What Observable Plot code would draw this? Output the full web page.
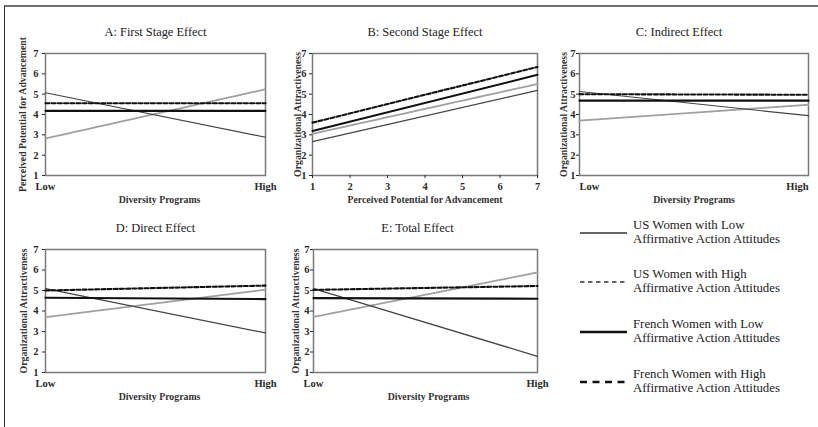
<!DOCTYPE html>
<html>
<head>
<meta charset="utf-8">
<script src="https://cdn.jsdelivr.net/npm/d3@7"></script>
<script src="https://cdn.jsdelivr.net/npm/@observablehq/plot@0.6"></script>
<style>
  html, body { margin: 0; padding: 0; background: #fff; }
  #root { position: relative; width: 818px; height: 427px; overflow: hidden; background: #fff;
          font-family: "Liberation Serif", "Times New Roman", serif; color: #222; }
  #border { position: absolute; left: 4px; top: 5px; right: 0; bottom: 0;
            border-top: 2px solid #707070; border-left: 1.5px solid #333; pointer-events: none; }
  .panel { position: absolute; }
  #legend { position: absolute; left: 578px; top: 0; width: 240px; height: 427px; }
  .entry { position: absolute; left: 0; width: 240px; height: 30px; }
  .entry svg { position: absolute; left: 2px; }
  .entry .txt { position: absolute; left: 55px; top: 0; font-size: 12.8px; line-height: 14.5px; white-space: nowrap; color: #222; }
</style>
</head>
<body>
<div id="root">
  <div id="border"></div>
  <div id="legend"></div>
</div>
<script>
// ---------- data ----------
const seriesNames = [
  "US Women with Low Affirmative Action Attitudes",
  "US Women with High Affirmative Action Attitudes",
  "French Women with Low Affirmative Action Attitudes",
  "French Women with High Affirmative Action Attitudes"
];
const legendLine1 = ["US Women with Low", "US Women with High", "French Women with Low", "French Women with High"];
const legendLine2 = ["Affirmative Action Attitudes", "Affirmative Action Attitudes", "Affirmative Action Attitudes", "Affirmative Action Attitudes"];

const xLevels = ["Low", "High"];
const potentialEnds = [1, 7];
const potentialTicks = [1, 2, 3, 4, 5, 6, 7];
const yTicks = [1, 2, 3, 4, 5, 6, 7];

const titles = ["A: First Stage Effect", "B: Second Stage Effect", "C: Indirect Effect", "D: Direct Effect", "E: Total Effect"];
const xLabels = ["Diversity Programs", "Perceived Potential for Advancement", "Diversity Programs", "Diversity Programs", "Diversity Programs"];
const yLabels = ["Perceived Potential for Advancement", "Organizational Attractiveness", "Organizational Attractiveness", "Organizational Attractiveness", "Organizational Attractiveness"];

// values per series (US Low, US High, French Low, French High), [at low end, at high end]
const firstStage  = [[5.07, 2.88], [2.82, 5.24], [4.18, 4.18], [4.55, 4.55]];
const secondStage = [[2.67, 5.19], [3.05, 5.50], [3.19, 5.95], [3.60, 6.34]];
const indirect    = [[5.13, 3.94], [3.70, 4.48], [4.68, 4.68], [5.00, 4.97]];
const direct      = [[5.09, 2.93], [3.70, 5.04], [4.65, 4.58], [5.00, 5.24]];
const total       = [[5.09, 1.79], [3.71, 5.88], [4.63, 4.60], [5.03, 5.22]];

// ---------- styles ----------
const serif = '"Liberation Serif", "Times New Roman", serif';
const lineStyles = [
  {stroke: "#444", strokeWidth: 1.2},
  {stroke: "#a0a0a0", strokeWidth: 1.8, strokeDasharray: "1.4,1"},
  {stroke: "#111", strokeWidth: 2.1},
  {stroke: "#111", strokeWidth: 2.1, strokeDasharray: "4,2.2"}
];
const drawOrder = [1, 0, 2, 3];
const tickFont = {fontSize: 10.5, fontWeight: "bold"};

function rows(values, xs) {
  return values.flatMap((pair, s) => pair.map((y, i) => ({series: seriesNames[s], x: xs[i], y})));
}

function xAxes(cfg) {
  if (cfg.kind === "linear") {
    return [Plot.axisX({ticks: potentialTicks, tickFormat: d3.format("d"), tickSize: 3, tickPadding: 4, ...tickFont, label: null})];
  }
  if (cfg.edgeAlign) {
    return [
      Plot.axisX({ticks: [xLevels[0]], tickSize: 0, tickPadding: 7, textAnchor: "start", ...tickFont, label: null}),
      Plot.axisX({ticks: [xLevels[1]], tickSize: 0, tickPadding: 7, textAnchor: "end", ...tickFont, label: null})
    ];
  }
  return [Plot.axisX({tickSize: 0, tickPadding: 7, ...tickFont, label: null})];
}

function panel(cfg) {
  const isPoint = cfg.kind === "point";
  const data = rows(cfg.values, isPoint ? xLevels : potentialEnds);
  return Plot.plot({
    width: cfg.width, height: cfg.height,
    marginLeft: cfg.ml, marginRight: cfg.mr, marginTop: cfg.mt, marginBottom: cfg.mb,
    style: {background: "transparent", overflow: "visible", fontFamily: serif, color: "#2a2a2a"},
    x: isPoint ? {type: "point", domain: xLevels, padding: 0} : {type: "linear", domain: [1, 7]},
    y: {domain: [1, 7]},
    marks: [
      Plot.frame({stroke: "#7a7a7a", strokeWidth: 1.5}),
      Plot.axisY({ticks: yTicks, tickFormat: d3.format("d"), tickSize: 3, tickPadding: cfg.tp, ...tickFont, label: null}),
      ...xAxes(cfg),
      ...drawOrder.map(s => Plot.line(data.filter(d => d.series === seriesNames[s]), {x: "x", y: "y", ...lineStyles[s]})),
      Plot.text([cfg.title], {frameAnchor: "top", dy: -18, dx: cfg.tdx, textAnchor: "middle", lineAnchor: "bottom", fontSize: 12.4, fill: "#222"}),
      Plot.text([cfg.xLabel], {frameAnchor: "bottom", dy: 24, dx: cfg.xdx, textAnchor: "middle", lineAnchor: "middle", fontSize: 9.8, fontWeight: "bold", fill: "#333"}),
      Plot.text([cfg.yLabel], {frameAnchor: "left", dx: cfg.ydx, rotate: -90, textAnchor: "middle", lineAnchor: "middle", fontSize: 9.8, fontWeight: "bold", fill: "#333"})
    ]
  });
}

const panels = [
  {values: firstStage,  kind: "point",  left: 0,   top: 0,   width: 280, height: 210, ml: 45, mr: 15, mt: 53, mb: 35, tp: 4, tdx: 0,   xdx: 4, ydx: -23},
  {values: secondStage, kind: "linear", left: 280, top: 0,   width: 272, height: 210, ml: 32, mr: 15, mt: 53, mb: 35, tp: 3, tdx: 0,   xdx: 0, ydx: -15},
  {values: indirect,    kind: "point",  left: 552, top: 0,   width: 266, height: 210, ml: 27, mr: 10, mt: 53, mb: 35, tp: 1, tdx: -15, xdx: 0, ydx: -16, edgeAlign: true},
  {values: direct,      kind: "point",  left: 0,   top: 210, width: 280, height: 200, ml: 45, mr: 15, mt: 39, mb: 38, tp: 4, tdx: 0,   xdx: 4, ydx: -22},
  {values: total,       kind: "point",  left: 280, top: 210, width: 272, height: 200, ml: 33, mr: 15, mt: 39, mb: 38, tp: 1, tdx: -8,  xdx: 3, ydx: -18}
];

const root = document.getElementById("root");
panels.forEach((cfg, i) => {
  const el = panel({...cfg, title: titles[i], xLabel: xLabels[i], yLabel: yLabels[i]});
  const wrap = document.createElement("div");
  wrap.className = "panel";
  wrap.style.left = cfg.left + "px";
  wrap.style.top = cfg.top + "px";
  wrap.appendChild(el);
  root.appendChild(wrap);
});

// ---------- legend ----------
const legendCenters = [232, 281, 331, 381];
const legendSample = [
  {w: 1.4, dash: null, c: "#333"},
  {w: 1.3, dash: "4.5,3.5", c: "#333"},
  {w: 2.6, dash: null, c: "#111"},
  {w: 2.6, dash: "7,5.5", c: "#111"}
];
const legend = document.getElementById("legend");
legendLine1.forEach((t, i) => {
  const e = document.createElement("div");
  e.className = "entry";
  e.style.top = (legendCenters[i] - 14.5) + "px";
  const st = legendSample[i];
  e.innerHTML =
    `<svg width="48" height="6" style="top:${14.5 - 2}px"><line x1="0" x2="47" y1="3" y2="3" stroke="${st.c}" stroke-width="${st.w}" ${st.dash ? `stroke-dasharray="${st.dash}"` : ""}/></svg>` +
    `<div class="txt">${t}<br>${legendLine2[i]}</div>`;
  legend.appendChild(e);
});
root.appendChild(document.getElementById("border"));
</script>
</body>
</html>
